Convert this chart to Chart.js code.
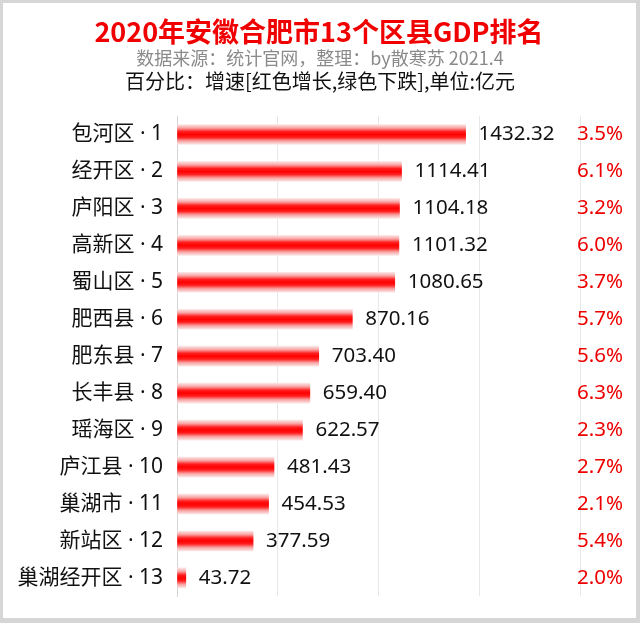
<!DOCTYPE html>
<html>
<head>
<meta charset="utf-8">
<script src="https://cdn.jsdelivr.net/npm/chart.js@4/dist/chart.umd.min.js"></script>
<style>
  html, body { margin: 0; padding: 0; background: #fff; }
  #wrap { width: 640px; height: 623px; position: relative; }
</style>
</head>
<body>
<div id="wrap"><canvas id="c"></canvas></div>
<script>
const titleText = '2020年安徽合肥市13个区县GDP排名';
const subtitleText = '数据来源：统计官网，整理：by散寒苏 2021.4';
const noteText = '百分比：增速[红色增长,绿色下跌],单位:亿元';
const districts = ['包河区','经开区','庐阳区','高新区','蜀山区','肥西县','肥东县','长丰县','瑶海区','庐江县','巢湖市','新站区','巢湖经开区'];
const ranks = [1,2,3,4,5,6,7,8,9,10,11,12,13];
const gdp = [1432.32,1114.41,1104.18,1101.32,1080.65,870.16,703.40,659.40,622.57,481.43,454.53,377.59,43.72];
const growth = [3.5,6.1,3.2,6.0,3.7,5.7,5.6,6.3,2.3,2.7,2.1,5.4,2.0];
const xTicks = [0,500,1000,1500,2000];

const FONT = "'Noto Sans CJK SC', 'Noto Sans', sans-serif";
const LFONT = "'Noto Sans', 'Noto Sans CJK SC', sans-serif";
const labels = districts.map((d, i) => d + ' · ' + ranks[i]);

function barGradient(ctx) {
  const chart = ctx.chart;
  const ys = chart.scales && chart.scales.y;
  if (!ys || ctx.type !== 'data' || !chart.chartArea) return '#ff0000';
  const yc = ys.getPixelForValue(ctx.dataIndex);
  const h = 10;
  const g = chart.ctx.createLinearGradient(0, yc - h, 0, yc + h);
  g.addColorStop(0, '#fbe6e6');
  g.addColorStop(0.18, '#f9a0a0');
  g.addColorStop(0.35, '#ff2020');
  g.addColorStop(0.5, '#ff0000');
  g.addColorStop(0.65, '#ff2020');
  g.addColorStop(0.82, '#f9a0a0');
  g.addColorStop(1, '#fbe6e6');
  return g;
}

const framePlugin = {
  id: 'frame',
  beforeDraw(chart) {
    const c = chart.ctx;
    c.save();
    c.fillStyle = '#d6d6d6';
    c.fillRect(0, 0, chart.width, chart.height);
    c.fillStyle = '#ffffff';
    c.fillRect(3, 3, chart.width - 7, chart.height - 8);
    c.restore();
  }
};

const textPlugin = {
  id: 'texts',
  afterDraw(chart) {
    const c = chart.ctx;
    c.save();
    c.textAlign = 'center';
    c.textBaseline = 'middle';
    c.fillStyle = '#f00000';
    c.font = "bold 27px " + FONT;
    c.fillText(titleText, 319, 32);
    c.fillStyle = '#8a8a8a';
    c.font = "18px " + FONT;
    c.fillText(subtitleText, 320, 58);
    c.fillStyle = '#111111';
    c.font = "20px " + FONT;
    c.fillText(noteText, 320, 81);
    c.restore();
  },
  afterDatasetsDraw(chart) {
    const c = chart.ctx;
    const meta = chart.getDatasetMeta(0);
    const area = chart.chartArea;
    c.save();
    c.textBaseline = 'middle';
    c.textAlign = 'left';
    c.font = "20.5px " + LFONT;
    meta.data.forEach((el, i) => {
      c.fillStyle = '#111111';
      c.fillText(gdp[i].toFixed(2), el.x + 13, el.y);
      c.fillStyle = '#ee0000';
      c.fillText(growth[i].toFixed(1) + '%', area.right - 3, el.y);
    });
    c.restore();
  }
};

new Chart(document.getElementById('c'), {
  type: 'bar',
  data: {
    labels: labels,
    datasets: [{
      data: gdp,
      backgroundColor: barGradient,
      borderWidth: 0,
      barThickness: 20
    }]
  },
  options: {
    indexAxis: 'y',
    responsive: true,
    maintainAspectRatio: false,
    animation: false,
    layout: { padding: { top: 116, bottom: 21, left: 0, right: 60 } },
    plugins: {
      legend: { display: false },
      tooltip: { enabled: false },
      title: { display: false }
    },
    scales: {
      x: {
        min: 0,
        max: 2000,
        afterBuildTicks(scale) { scale.ticks = xTicks.map(v => ({ value: v })); },
        afterFit(scale) { scale.height = 0; },
        ticks: { display: false },
        border: { display: false },
        grid: { color: '#e8e8e8', lineWidth: 1, drawTicks: false }
      },
      y: {
        afterFit(scale) { scale.width = 177; },
        grid: { display: false, drawTicks: false },
        border: { display: true, color: '#d4d4d4', width: 1 },
        ticks: {
          padding: 14,
          color: '#111111',
          font: { family: LFONT, size: 21 }
        }
      }
    }
  },
  plugins: [framePlugin, textPlugin]
});
</script>
</body>
</html>
